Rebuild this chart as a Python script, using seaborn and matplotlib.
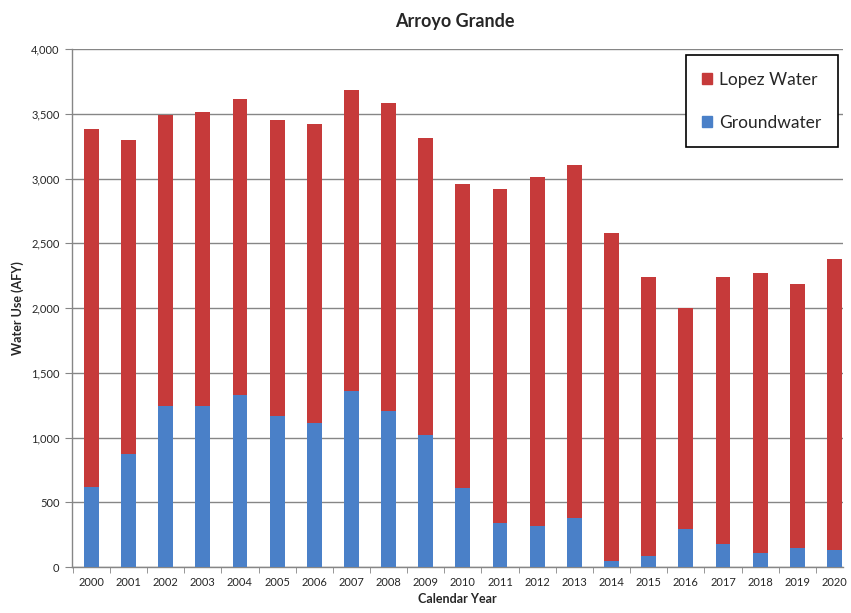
import matplotlib
matplotlib.use("Agg")
import matplotlib.pyplot as plt
import seaborn as sns
import pandas as pd
from matplotlib.patches import Patch
from matplotlib.ticker import FuncFormatter, FixedLocator

years = ["2000", "2001", "2002", "2003", "2004", "2005", "2006", "2007", "2008", "2009",
         "2010", "2011", "2012", "2013", "2014", "2015", "2016", "2017", "2018", "2019", "2020"]
total_use = [3380, 3300, 3490, 3515, 3615, 3455, 3420, 3685, 3580, 3315,
             2955, 2920, 3015, 3105, 2580, 2240, 2000, 2240, 2270, 2185, 2378]
groundwater = [615, 875, 1240, 1245, 1325, 1165, 1115, 1360, 1205, 1020,
               610, 340, 320, 380, 45, 85, 295, 175, 105, 145, 130]
lopez_water = [t - g for t, g in zip(total_use, groundwater)]

RED = "#C63A3A"
BLUE = "#4A80C8"

sns.set_style("white")
plt.rcParams["font.family"] = ["Lato", "DejaVu Sans"]

df = pd.DataFrame({"year": years, "total": total_use, "ground": groundwater, "lopez": lopez_water})

fig = plt.figure(figsize=(8.51, 6.13), dpi=100)
ax = fig.add_axes([0.0846, 0.075, 0.9060, 0.845])

sns.barplot(data=df, x="year", y="total", color=RED, width=0.4, saturation=1,
            linewidth=0, ax=ax, zorder=3)
sns.barplot(data=df, x="year", y="ground", color=BLUE, width=0.4, saturation=1,
            linewidth=0, ax=ax, zorder=4)

ax.yaxis.set_major_locator(FixedLocator(range(0, 4001, 500)))
ax.yaxis.set_major_formatter(FuncFormatter(lambda v, p: f"{int(v):,}"))
ax.grid(axis="y", color="#868686", linewidth=1.0, zorder=0)
ax.set_axisbelow(True)

for s in ["top", "right"]:
    ax.spines[s].set_visible(False)
for s in ["left", "bottom"]:
    ax.spines[s].set_color("#868686")
    ax.spines[s].set_linewidth(1.0)

ax.tick_params(axis="y", which="major", direction="out", length=5, color="#868686",
               labelsize=8, left=True, pad=4)
ax.tick_params(axis="x", which="major", length=0, labelsize=8, pad=7)
ax.set_xticks([i + 0.5 for i in range(-1, 20)], minor=True)
ax.tick_params(axis="x", which="minor", direction="out", length=4, color="#868686", bottom=True)

ax.set_ylim(0, 4000)
ax.set_xlim(-0.52, 20.23)

ax.set_xlabel("Calendar Year", fontsize=9, fontweight="bold", labelpad=4)
ax.set_ylabel("Water Use (AFY)", fontsize=9, fontweight="bold", labelpad=5)
fig.text(0.535, 0.965, "Arroyo Grande", ha="center", va="center", fontsize=13, fontweight="bold")

handles = [Patch(facecolor=RED, edgecolor=RED), Patch(facecolor=BLUE, edgecolor=BLUE)]
leg = ax.legend(handles, ["Lopez Water", "Groundwater"], loc="upper right",
                bbox_to_anchor=(0.993, 0.988), fontsize=12.5, frameon=True, fancybox=False,
                edgecolor="black", framealpha=1, labelspacing=1.55, handlelength=0.55,
                handleheight=0.55, handletextpad=0.4, borderpad=0.95, borderaxespad=0)
leg.get_frame().set_linewidth(1.2)
leg.set_zorder(10)

fig.savefig("out.png", dpi=100)
